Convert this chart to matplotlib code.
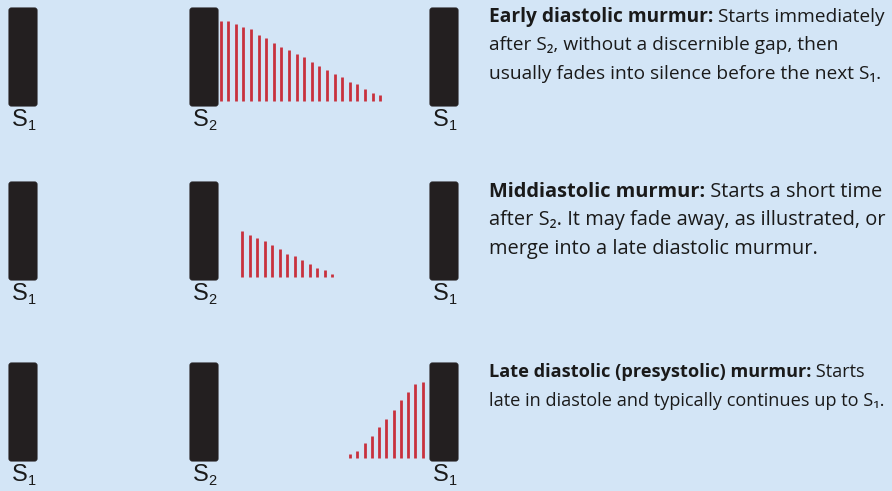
import matplotlib
matplotlib.use('Agg')
import matplotlib.pyplot as plt
from matplotlib.patches import FancyBboxPatch

# ---------------- data ----------------
sound_names = ['S', 'S', 'S']
sound_subs = ['1', '2', '1']
early_amp = [80, 80, 77, 74, 72, 66, 63, 58, 54, 51, 47, 44, 39, 35, 31, 27, 24, 19, 17, 12, 8, 6]
mid_amp = [46, 42, 39, 36, 32, 28, 23, 21, 17, 13, 9, 7, 3]
late_amp = [4, 7, 15, 22, 31, 39, 48, 58, 66, 74, 76]
titles = ['Early diastolic murmur:', 'Middiastolic murmur:', 'Late diastolic (presystolic) murmur:']
first_rest = [' Starts immediately', ' Starts a short time', ' Starts']
more_lines = [
    ['after S\u2082, without a discernible gap, then',
     'usually fades into silence before the next S\u2081.'],
    ['after S\u2082. It may fade away, as illustrated, or',
     'merge into a late diastolic murmur.'],
    ['late in diastole and typically continues up to S\u2081.'],
]

# ---------------- layout / style ----------------
W, H = 892, 491
BG = '#d3e5f6'
BAR = '#231f20'
RED = '#c8313d'
TXT = '#1a1a1a'

row_bottom = [106, 280, 461]
bar_left = [9, 190, 430]
bar_w, bar_h = 28, 98
murmur_start = [220.7, 242.3, 350.0]
murmur_step = [7.59, 7.5, 7.27]
murmur_gap = [5, 3, 3]
amps = [early_amp, mid_amp, late_amp]

text_x = 489
text_right = 887
first_base = [21.7, 196.7, 377.3]
line_step = 28.6
para_font = ['Open Sans', 'DejaVu Sans']
base_size = 14.0

fig = plt.figure(figsize=(W / 100, H / 100), dpi=100)
fig.patch.set_facecolor(BG)
ax = fig.add_axes([0, 0, 1, 1])
ax.set_xlim(0, W)
ax.set_ylim(H, 0)
ax.axis('off')
ax.set_facecolor(BG)

renderer = fig.canvas.get_renderer()
inv = ax.transData.inverted()


def draw_paragraph(r, size):
    y0 = first_base[r]
    arts = []
    t = ax.text(text_x, y0, titles[r], fontsize=size, family=para_font,
                fontweight='bold', color=TXT, va='baseline', ha='left')
    arts.append(t)
    bb = t.get_window_extent(renderer=renderer)
    x_end = inv.transform((bb.x1, bb.y0))[0]
    arts.append(ax.text(x_end, y0, first_rest[r], fontsize=size, family=para_font,
                        color=TXT, va='baseline', ha='left'))
    for k, ln in enumerate(more_lines[r]):
        arts.append(ax.text(text_x, y0 + (k + 1) * line_step, ln, fontsize=size,
                            family=para_font, color=TXT, va='baseline', ha='left'))
    right = max(inv.transform((a.get_window_extent(renderer=renderer).x1, 0))[0] for a in arts)
    return arts, right


for r in range(3):
    yb = row_bottom[r]
    # heart sound bars
    for b in range(3):
        p = FancyBboxPatch((bar_left[b], yb - bar_h), bar_w, bar_h,
                           boxstyle='round,pad=0,rounding_size=2.5',
                           facecolor=BAR, edgecolor=BAR, lw=0.8)
        ax.add_patch(p)
        ax.text(bar_left[b] + 3, yb + 20, sound_names[b], fontsize=17,
                family='Liberation Sans', color=TXT, va='baseline', ha='left')
        ax.text(bar_left[b] + 18.5, yb + 24, sound_subs[b], fontsize=10.5,
                family='Liberation Sans', color=TXT, va='baseline', ha='left')
    # murmur vibrations
    a = amps[r]
    xs = [murmur_start[r] + i * murmur_step[r] for i in range(len(a))]
    base = yb - murmur_gap[r]
    ax.vlines(xs, [base - v for v in a], base, colors=RED, lw=2.0)

    # description text, sized so the widest line fills the text column
    arts, right = draw_paragraph(r, base_size)
    for a_ in arts:
        a_.remove()
    size = base_size * (text_right - text_x) / (right - text_x)
    draw_paragraph(r, size)

fig.savefig('out.png', dpi=100, facecolor=BG)
